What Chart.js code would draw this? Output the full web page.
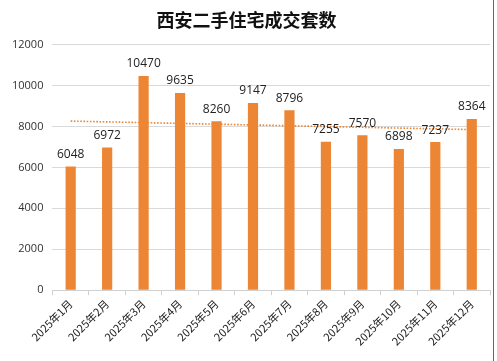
<!DOCTYPE html>
<html><head><meta charset="utf-8">
<script src="https://cdn.jsdelivr.net/npm/chart.js@4"></script>
<style>html,body{margin:0;padding:0;background:#fff;}#wrap{width:497px;height:361px;position:relative;}</style>
</head><body><div id="wrap"><canvas id="c" width="497" height="361"></canvas></div>
<script>
const categories = ["2025年1月","2025年2月","2025年3月","2025年4月","2025年5月","2025年6月","2025年7月","2025年8月","2025年9月","2025年10月","2025年11月","2025年12月"];
const values = [6048,6972,10470,9635,8260,9147,8796,7255,7570,6898,7237,8364];
const trendEnds = [8263,7846];
const yTicks = [0,2000,4000,6000,8000,10000,12000];

const trendData = categories.map((_,i)=> i===0 ? trendEnds[0] : (i===categories.length-1 ? trendEnds[1] : null));

const labelPlugin = {
  id:'barLabels',
  afterDatasetsDraw(chart){
    const ctx = chart.ctx;
    const meta = chart.getDatasetMeta(0);
    ctx.save();
    ctx.font = '12px "Open Sans", "DejaVu Sans", sans-serif';
    ctx.fillStyle = '#222';
    ctx.textAlign = 'center';
    ctx.textBaseline = 'bottom';
    meta.data.forEach((bar,i)=>{
      ctx.fillText(String(values[i]), bar.x, bar.y - 6);
    });
    ctx.restore();
  },
  afterDraw(chart){
    const ctx = chart.ctx;
    ctx.save();
    ctx.strokeStyle = '#666';
    ctx.lineWidth = 1;
    ctx.beginPath();
    ctx.moveTo(493.5, 0); ctx.lineTo(493.5, 361);
    ctx.stroke();
    ctx.restore();
  }
};

new Chart(document.getElementById('c'), {
  type:'bar',
  data:{
    labels:categories,
    datasets:[
      {type:'bar', data:values, backgroundColor:'#ed8634', barPercentage:0.28, categoryPercentage:1.0, order:2},
      {type:'line', data:trendData, spanGaps:true, borderColor:'#ed8634', borderWidth:1.6, borderDash:[1.6,1.6], pointRadius:0, fill:false, order:1}
    ]
  },
  options:{
    responsive:false,
    animation:false,
    layout:{padding:{left:3,right:7,top:0,bottom:11}},
    plugins:{
      legend:{display:false},
      tooltip:{enabled:false},
      title:{display:true, text:'西安二手住宅成交套数', color:'#111',
        font:{family:'"Noto Sans CJK SC", sans-serif', size:18, weight:'bold'}, padding:{top:9,bottom:14}}
    },
    scales:{
      y:{min:0,max:12000,
        afterBuildTicks(s){ s.ticks = yTicks.map(v=>({value:v})); },
        grid:{color:'#d9d9d9', drawTicks:false},
        border:{display:false},
        ticks:{color:'#333', font:{family:'"Open Sans", sans-serif', size:11}, padding:9,
          callback:(v)=>String(v)}
      },
      x:{
        grid:{drawOnChartArea:false, drawTicks:true, tickLength:5, color:'#d0d0d0', offset:true},
        border:{color:'#d0d0d0'},
        ticks:{color:'#222', maxRotation:45, minRotation:45, autoSkip:false, padding:2,
          font:{family:'"Noto Sans CJK SC", sans-serif', size:11}}
      }
    }
  },
  plugins:[labelPlugin]
});
</script></body></html>
